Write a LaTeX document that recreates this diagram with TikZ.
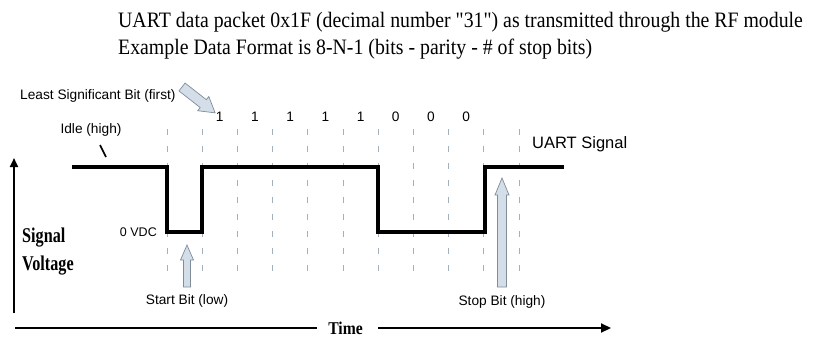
\documentclass[tikz,border=0pt]{standalone}
\usepackage{fontspec}
\usepackage{graphicx}
\setmainfont{Liberation Serif}
\newfontfamily\titlefont{Liberation Serif}
\newfontfamily\lblfont{Liberation Sans}
\usetikzlibrary{arrows.meta}
\definecolor{gridgray}{HTML}{A3B0BC}
\definecolor{arrowfill}{HTML}{D3DEE9}
\definecolor{arrowedge}{HTML}{7F8C99}
\begin{document}
\begin{tikzpicture}[x=1pt,y=1pt,
  sig/.style={line width=3.8pt, line join=miter},
  gridline/.style={draw=gridgray, line width=1pt, dash pattern=on 6pt off 11pt},
  lbl/.style={font=\lblfont\fontsize{13.7}{15}\selectfont, inner sep=0pt},
  title/.style={font=\titlefont\fontsize{22}{24}\selectfont, inner sep=0pt, anchor=base west},
  axlbl/.style={font=\bfseries\fontsize{21}{24}\selectfont, inner sep=0pt, anchor=base west},
  barrow/.style={fill=arrowfill, draw=arrowedge, line width=0.7pt, line join=miter},
  axis/.style={line width=2.2pt}
]
\useasboundingbox (0,0) rectangle (819,-337);

% title
\node[title] (t1) at (118,-28) {\scalebox{0.9}[1]{UART data packet 0x1F (decimal number "31") as transmitted through the RF module}};
\node[title] (t2) at (118,-55) {\scalebox{0.9}[1]{Example Data Format is 8-N-1 (bits - parity - \# of stop bits)}};

% dashed bit boundaries
\foreach \i in {0,...,10}{
  \draw[gridline] ({167+35.2*\i},-129) -- ({167+35.2*\i},-276);
}

% bit values
\foreach \v [count=\i from 0] in {1,1,1,1,1,0,0,0}{
  \node[lbl] (b\i) at ({202.2+35.2*\i+17.6},-117) {\v};
}

% signal
\draw[sig] (72,-167) -- (167,-167) -- (167,-232) -- (202.2,-232) -- (202.2,-167)
  -- (378.2,-167) -- (378.2,-232) -- (484.8,-232) -- (484.8,-167) -- (564,-167);

% labels
\node[lbl, anchor=west] (lsb) at (20,-96) {Least Significant Bit (first)};
\node[lbl] (idle) at (91,-130) {Idle (high)};
\coordinate (idleA) at (100,-145);
\coordinate (idleB) at (106,-157);
\draw[line width=1.6pt] (idleA) -- (idleB);
\node[lbl, anchor=west, font=\lblfont\fontsize{16.5}{18}\selectfont] (uart) at (532,-144) {UART Signal};
\node[lbl, anchor=east, font=\lblfont\fontsize{12.5}{14}\selectfont] (vdc) at (157,-232) {0 VDC};
\node[axlbl] (sig) at (22,-242) {\scalebox{0.77}[1]{Signal}};
\node[axlbl] (volt) at (22,-270) {\scalebox{0.77}[1]{Voltage}};
\node[lbl] (start) at (187,-301) {Start Bit (low)};
\node[lbl] (stop) at (502,-302) {Stop Bit (high)};

% block arrows
% LSB callout
\draw[barrow, shift={(182,-87)}, rotate=-38]
  (0,-5) -- (27,-5) -- (27,-9) -- (42,0) -- (27,9) -- (27,5) -- (0,5) -- cycle;
% start bit
\draw[barrow, shift={(187,-287)}, rotate=90]
  (0,-3.5) -- (27,-3.5) -- (27,-6.5) -- (42,0) -- (27,6.5) -- (27,3.5) -- (0,3.5) -- cycle;
% stop bit
\draw[barrow, shift={(502,-287)}, rotate=90]
  (0,-4.5) -- (92,-4.5) -- (92,-7) -- (109,0) -- (92,7) -- (92,4.5) -- (0,4.5) -- cycle;

% axes
\coordinate (vbot) at (14,-313);
\coordinate (vtop) at (14,-158);
\draw[axis, -{Triangle[length=9pt,width=8pt]}] (vbot) -- (vtop);
\node[inner sep=0pt, anchor=base, font=\bfseries\fontsize{18}{20}\selectfont] (time) at (345.5,-334) {\scalebox{0.87}[1]{Time}};
\coordinate (hleft) at (15,-328);
\coordinate (hright) at (611,-328);
\draw[axis] (hleft) -- (317,-328);
\draw[axis, -{Triangle[length=10pt,width=9pt]}] (378,-328) -- (hright);
\end{tikzpicture}
\end{document}
